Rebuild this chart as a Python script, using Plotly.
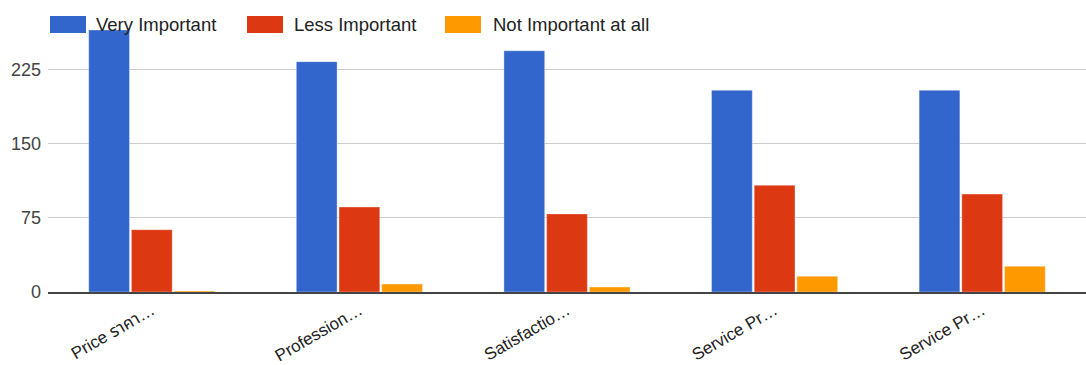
import plotly.graph_objects as go

categories = ["Price ราคา…", "Profession…", "Satisfactio…", "Service Pr…", "Service Pr…"]
keys = ["c0", "c1", "c2", "c3", "c4"]
series_names = ["Very Important", "Less Important", "Not Important at all"]
very_important = [265, 233, 244, 204, 204]
less_important = [63, 86, 79, 108, 99]
not_important = [1, 8, 5, 16, 26]
colors = ["#3366cc", "#dc3912", "#ff9900"]
y_ticks = [0, 75, 150, 225]

W, H = 1086, 365
ml, mr, mt, mb = 48, 0, 30, 73
pw, ph = W - ml - mr, H - mt - mb

fig = go.Figure()
for name, vals, col in zip(series_names, [very_important, less_important, not_important], colors):
    fig.add_trace(go.Bar(
        x=keys, y=vals, name=name, marker_color=col,
        marker_line=dict(color="rgba(255,255,255,0.35)", width=1),
        showlegend=False,
    ))

def px_x(p):
    return (p - ml) / pw

def px_y(p):
    return (H - mb - p) / ph

# custom legend (swatch + label)
legend_px = [(50, 94), (247, 292), (445, 491)]
shapes, annotations = [], []
for name, col, (sx, tx) in zip(series_names, colors, legend_px):
    shapes.append(dict(type="rect", xref="paper", yref="paper",
                       x0=px_x(sx), x1=px_x(sx + 36), y0=px_y(33), y1=px_y(16),
                       fillcolor=col, line=dict(width=0), layer="above"))
    annotations.append(dict(text=name, xref="paper", yref="paper",
                            x=px_x(tx), y=px_y(24.5), xanchor="left", yanchor="middle",
                            showarrow=False, font=dict(size=18.5, color="#222222")))

fig.update_layout(
    width=W, height=H,
    margin=dict(l=ml, r=mr, t=mt, b=mb, pad=0),
    paper_bgcolor="white", plot_bgcolor="white",
    barmode="group", bargap=0.383, bargroupgap=0.045,
    font=dict(family="Arial, Liberation Sans, Noto Sans, Noto Sans Thai, sans-serif", size=18, color="#222222"),
    shapes=shapes, annotations=annotations,
    xaxis=dict(
        type="category", tickmode="array", tickvals=keys, ticktext=categories,
        tickangle=-30, showgrid=False, showline=True, linecolor="#444444", linewidth=2,
        ticks="", tickfont=dict(size=17, color="#222222"), ticklabelstandoff=0,
        automargin=False,
    ),
    yaxis=dict(
        range=[0, 265], tickmode="array", tickvals=y_ticks, showgrid=True,
        gridcolor="#cccccc", gridwidth=1, zeroline=False, ticks="",
        tickfont=dict(size=18, color="#444444"), ticklabelstandoff=6,
        automargin=False,
    ),
)

fig.write_html("out.html")
